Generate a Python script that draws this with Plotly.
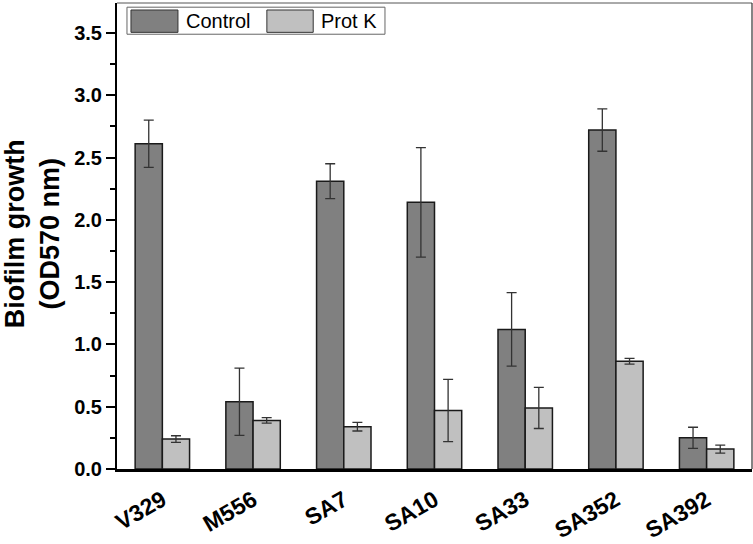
import plotly.graph_objects as go

categories = ["V329", "M556", "SA7", "SA10", "SA33", "SA352", "SA392"]
control = [2.61, 0.54, 2.31, 2.14, 1.12, 2.72, 0.25]
control_err = [0.19, 0.27, 0.14, 0.44, 0.295, 0.17, 0.085]
protk = [0.24, 0.39, 0.34, 0.47, 0.49, 0.865, 0.16]
protk_err = [0.027, 0.022, 0.035, 0.25, 0.165, 0.023, 0.032]
y_ticks = [0.0, 0.5, 1.0, 1.5, 2.0, 2.5, 3.0, 3.5]
y_title = "Biofilm growth<br>(OD570 nm)"

FONT = "Arial, Liberation Sans, sans-serif"
C_CTRL = "#808080"
C_PROT = "#c0c0c0"

fig = go.Figure()
fig.add_bar(x=categories, y=control, name="Control",
            marker=dict(color=C_CTRL, line=dict(color="#1a1a1a", width=1.5)),
            error_y=dict(type="data", array=control_err, color="#333333", thickness=1.3, width=5))
fig.add_bar(x=categories, y=protk, name="Prot K",
            marker=dict(color=C_PROT, line=dict(color="#1a1a1a", width=1.5)),
            error_y=dict(type="data", array=protk_err, color="#333333", thickness=1.3, width=5))

fig.update_layout(
    width=753, height=544,
    margin=dict(l=117, r=1, t=3, b=75),
    paper_bgcolor="white", plot_bgcolor="white",
    barmode="group", bargap=0.4, bargroupgap=0,
    showlegend=False,
    font=dict(family=FONT, color="black"),
)
fig.update_xaxes(
    range=[-0.5, 6.5], showline=True, linecolor="black", linewidth=2.5,
    ticks="outside", ticklen=6, tickcolor="rgba(0,0,0,0)",
    tickangle=-30, tickfont=dict(size=23, family=FONT, weight="bold"),
    showgrid=False, zeroline=False, automargin=False,
)
fig.update_yaxes(
    range=[0, 3.74], tickvals=y_ticks, ticktext=[f"{v:.1f}" for v in y_ticks],
    showline=True, linecolor="black", linewidth=2,
    ticks="outside", ticklen=9, tickwidth=2, tickcolor="black",
    minor=dict(ticks="outside", ticklen=5, tickwidth=1.5, tickcolor="black", dtick=0.25, showgrid=False),
    tickfont=dict(size=20, family=FONT, weight="bold"),
    showgrid=False, zeroline=False, automargin=False,
)

# y-axis title
fig.add_annotation(xref="paper", yref="paper", x=-0.133, y=0.505, text=y_title, showarrow=False,
                   textangle=-90, xanchor="center", yanchor="middle",
                   font=dict(size=27, family=FONT, weight="bold", color="black"))

# frame top/right
fig.add_shape(type="line", xref="paper", yref="paper", x0=0, x1=1, y0=1, y1=1, line=dict(color="#555555", width=1))
fig.add_shape(type="line", xref="paper", yref="paper", x0=1, x1=1, y0=0, y1=1, line=dict(color="#333333", width=1.2))

# custom legend
fig.add_shape(type="rect", xref="paper", yref="paper", x0=0.0157, x1=0.422, y0=0.933, y1=0.991,
              line=dict(color="#666666", width=1), fillcolor="white")
fig.add_shape(type="rect", xref="paper", yref="paper", x0=0.022, x1=0.096, y0=0.937, y1=0.985,
              line=dict(color="#333333", width=1), fillcolor=C_CTRL)
fig.add_shape(type="rect", xref="paper", yref="paper", x0=0.236, x1=0.309, y0=0.937, y1=0.985,
              line=dict(color="#333333", width=1), fillcolor=C_PROT)
fig.add_annotation(xref="paper", yref="paper", x=0.105, y=0.9615, text="Control", showarrow=False,
                   xanchor="left", yanchor="middle", font=dict(size=20, family=FONT, color="black"))
fig.add_annotation(xref="paper", yref="paper", x=0.318, y=0.9615, text="Prot K", showarrow=False,
                   xanchor="left", yanchor="middle", font=dict(size=20, family=FONT, color="black"))

fig.write_html("out.html", config={"displayModeBar": False},
               post_script="document.body.style.margin='0';document.body.style.padding='0';")
